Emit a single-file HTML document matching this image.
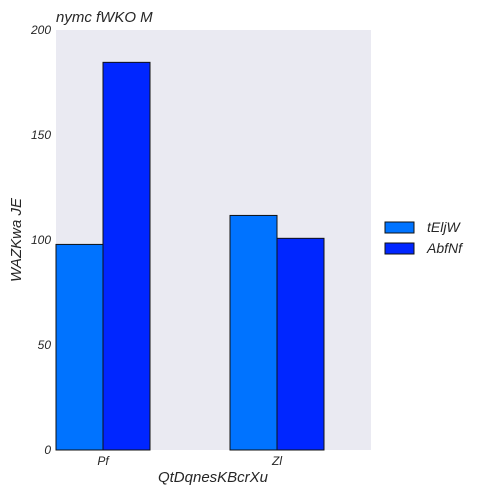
<!DOCTYPE html>
<html><head><meta charset="utf-8"><style>
body{margin:0;background:#fff;}
svg text{font-family:"Liberation Sans",Arial,sans-serif;font-style:italic;fill:#262626;}
</style></head><body>
<svg width="496" height="496">
<g id="g"></g>
</svg>
<script>
const categories=["Pf","Zl"];
const seriesNames=["tEljW","AbfNf"];
const series1=[97.9,111.7];
const series2=[184.6,100.8];
const yTicks=[0,50,100,150,200];
const colors=["#0073ff","#0026ff"];
const svgNS="http://www.w3.org/2000/svg";
const g=document.getElementById('g');
const L=56,R=371,T=30,B=450;
const y=v=>B-(v/200)*(B-T);
const cx=i=>103+174*i;
const bw=47;
function mk(t,a,txt){const e=document.createElementNS(svgNS,t);for(const k in a)e.setAttribute(k,a[k]);if(txt!=null)e.textContent=txt;g.appendChild(e);return e;}
let e=mk('rect',{x:L,y:T,width:R-L,height:B-T,fill:'#eaeaf2'});


e=mk('text',{x:56,y:22,'font-size':15},'nymc fWKO M');


yTicks.forEach(t=>{
 const l=mk('text',{x:51,y:y(t)+4,'font-size':12,'text-anchor':'end'},String(t));
 
 
});
[series1,series2].forEach((s,si)=>{
 s.forEach((v,i)=>{
  const x0=cx(i)-bw+si*bw;
  const r=mk('rect',{x:x0,y:y(v),width:bw,height:B-y(v),fill:colors[si],stroke:'#111',"stroke-width":1});
  
  
 });
});
categories.forEach((c,i)=>{
 const l=mk('text',{x:cx(i),y:465,'font-size':12,'text-anchor':'middle'},c);
 
 
});
e=mk('text',{x:213,y:482,'font-size':15,'text-anchor':'middle'},'QtDqnesKBcrXu');


e=mk('text',{x:21,y:240,'font-size':15,'text-anchor':'middle',transform:'rotate(-90 21 240)'},'WAZKwa JE');


seriesNames.forEach((n,i)=>{
 const yy=222+21*i;
 const r=mk('rect',{x:385,y:yy,width:29,height:11,fill:colors[i],stroke:'#111',"stroke-width":1});
 
 
 const t=mk('text',{x:427,y:yy+10,'font-size':14},n);
 
 
});
</script>
</body></html>
